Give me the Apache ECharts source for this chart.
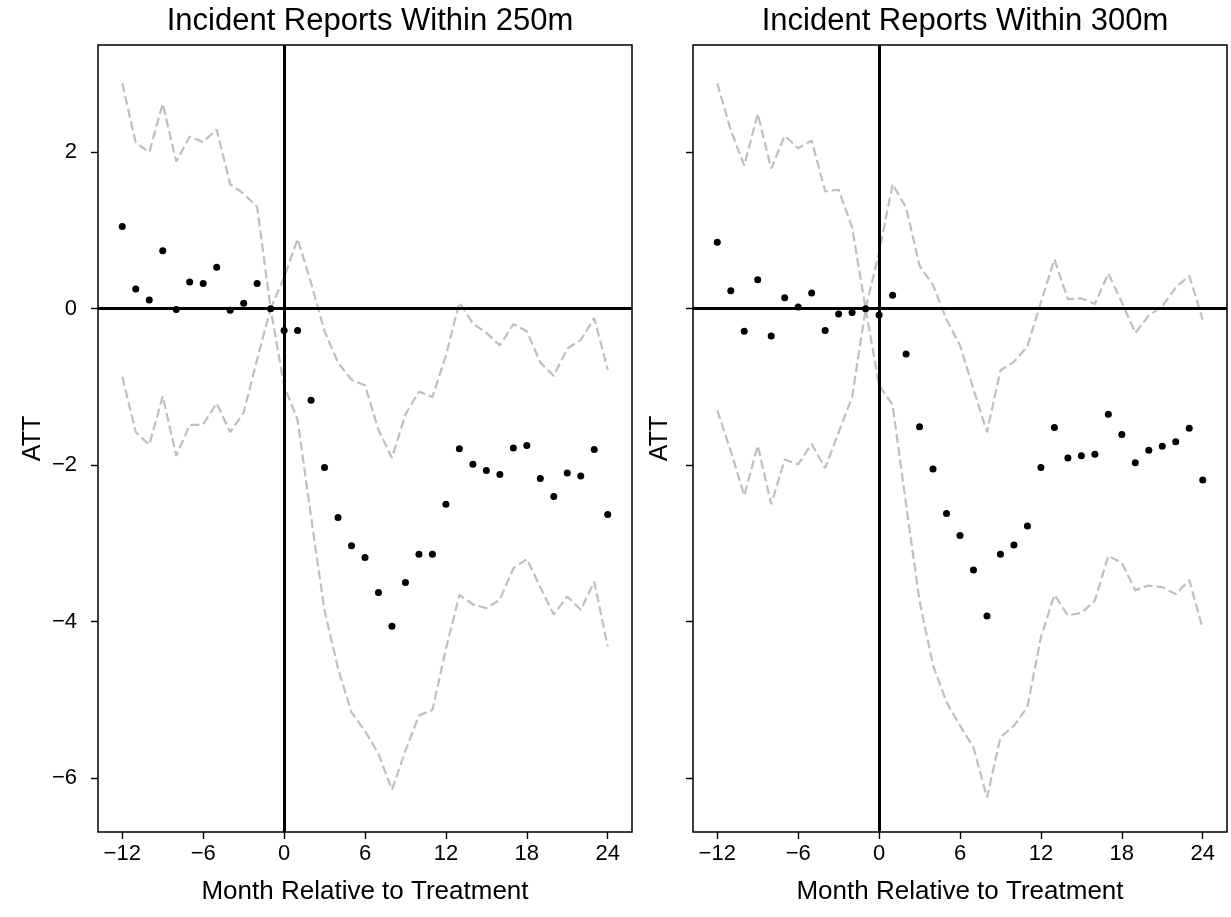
<!DOCTYPE html>
<html><head><meta charset="utf-8">
<script src="https://cdn.jsdelivr.net/npm/echarts@6/dist/echarts.min.js"></script>
<style>html,body{margin:0;padding:0;background:#fff}#c{width:1231px;height:917px}</style>
</head><body><div id="c"></div>
<script>
const months = [-12,-11,-10,-9,-8,-7,-6,-5,-4,-3,-2,-1,0,1,2,3,4,5,6,7,8,9,10,11,12,13,14,15,16,17,18,19,20,21,22,23,24];

const att250 = [1.05,0.25,0.11,0.74,-0.01,0.34,0.32,0.53,-0.02,0.07,0.32,0.00,-0.28,-0.28,-1.17,-2.03,-2.67,-3.03,-3.18,-3.63,-4.06,-3.50,-3.14,-3.14,-2.50,-1.79,-1.99,-2.07,-2.12,-1.78,-1.75,-2.17,-2.40,-2.10,-2.14,-1.80,-2.63];
const upper250 = [2.88,2.12,2.00,2.62,1.88,2.20,2.13,2.29,1.59,1.47,1.30,0.00,0.40,0.89,0.33,-0.29,-0.69,-0.91,-0.98,-1.55,-1.91,-1.35,-1.06,-1.13,-0.60,0.08,-0.19,-0.31,-0.47,-0.20,-0.29,-0.69,-0.86,-0.51,-0.40,-0.12,-0.78];
const lower250 = [-0.87,-1.58,-1.74,-1.12,-1.88,-1.49,-1.48,-1.21,-1.58,-1.33,-0.65,0.00,-0.99,-1.42,-2.66,-3.86,-4.60,-5.16,-5.40,-5.69,-6.15,-5.65,-5.20,-5.13,-4.35,-3.66,-3.78,-3.83,-3.72,-3.32,-3.20,-3.56,-3.91,-3.68,-3.85,-3.49,-4.32];

const att300 = [0.85,0.23,-0.29,0.37,-0.35,0.14,0.02,0.20,-0.28,-0.07,-0.05,0.00,-0.08,0.17,-0.58,-1.51,-2.05,-2.62,-2.90,-3.34,-3.93,-3.14,-3.02,-2.78,-2.03,-1.52,-1.91,-1.88,-1.86,-1.35,-1.61,-1.97,-1.81,-1.76,-1.70,-1.53,-2.19];
const upper300 = [2.88,2.28,1.83,2.49,1.79,2.21,2.05,2.15,1.50,1.52,1.04,0.00,0.72,1.59,1.29,0.55,0.30,-0.14,-0.47,-1.03,-1.58,-0.79,-0.68,-0.48,0.08,0.63,0.12,0.13,0.06,0.45,0.08,-0.31,-0.09,0.03,0.27,0.42,-0.14];
const lower300 = [-1.30,-1.82,-2.39,-1.75,-2.50,-1.93,-1.99,-1.73,-2.04,-1.58,-1.13,0.00,-0.98,-1.23,-2.50,-3.74,-4.56,-5.03,-5.33,-5.61,-6.25,-5.48,-5.33,-5.09,-4.20,-3.66,-3.92,-3.89,-3.73,-3.16,-3.25,-3.60,-3.54,-3.56,-3.65,-3.47,-4.09];

const titles = ['Incident Reports Within 250m', 'Incident Reports Within 300m'];
const xTicks = [-12,-6,0,6,12,18,24];
const yTicks = [-6,-4,-2,0,2];
const xLabel = 'Month Relative to Treatment';
const yLabel = 'ATT';

const FONT = '"Liberation Sans", Arial, Helvetica, sans-serif';
const pair = arr => months.map((m, i) => [m, arr[i]]);
const fmt = v => String(v).replace('-', '\u2212');

const panels = [
  {att: att250, up: upper250, lo: lower250, left: 98},
  {att: att300, up: upper300, lo: lower300, left: 693}
];

const grid = [], xAxis = [], yAxis = [], series = [], title = [];
panels.forEach((p, k) => {
  grid.push({left: p.left, top: 45, width: 534, height: 787, show: true,
    borderColor: '#000', borderWidth: 1.5, backgroundColor: 'transparent', containLabel: false});
  title.push({text: titles[k], left: p.left + 267, top: 1, textAlign: 'center',
    textStyle: {fontFamily: FONT, fontSize: 31, fontWeight: 'normal', color: '#000'}});
  xAxis.push({type: 'value', gridIndex: k, min: -13.8, max: 25.8,
    name: xLabel, nameLocation: 'middle', nameGap: 47,
    nameTextStyle: {fontFamily: FONT, fontSize: 26, color: '#000'},
    axisLine: {show: false, onZero: false}, splitLine: {show: false},
    axisTick: {show: true, length: 7, inside: false, customValues: xTicks, lineStyle: {color: '#000', width: 1.4}},
    axisLabel: {customValues: xTicks, formatter: fmt, margin: 11, fontFamily: FONT, fontSize: 22, color: '#000'}
  });
  yAxis.push({type: 'value', gridIndex: k, min: -6.69, max: 3.37,
    name: yLabel, nameLocation: 'middle', nameGap: k === 0 ? 52 : 20,
    nameTextStyle: {fontFamily: FONT, fontSize: 25, color: '#000'},
    axisLine: {show: false, onZero: false}, splitLine: {show: false},
    axisTick: {show: true, length: 7, inside: false, customValues: yTicks, lineStyle: {color: '#000', width: 1.4}},
    axisLabel: {show: k === 0, customValues: yTicks, formatter: fmt, margin: 21, fontFamily: FONT, fontSize: 22, color: '#000'}
  });
  const dashed = {color: '#bfbfbf', width: 2.2, type: [9, 4]};
  series.push({type: 'line', xAxisIndex: k, yAxisIndex: k, data: pair(p.up), showSymbol: false, symbol: 'none',
    lineStyle: dashed, silent: true, z: 2, animation: false});
  series.push({type: 'line', xAxisIndex: k, yAxisIndex: k, data: pair(p.lo), showSymbol: false, symbol: 'none',
    lineStyle: dashed, silent: true, z: 2, animation: false});
  series.push({type: 'scatter', xAxisIndex: k, yAxisIndex: k, data: pair(p.att), symbolSize: 7,
    itemStyle: {color: '#000', opacity: 1}, z: 4, animation: false,
    markLine: {silent: true, symbol: ['none', 'none'], label: {show: false}, animation: false,
      lineStyle: {color: '#000', width: 3, type: 'solid', opacity: 1},
      data: [{xAxis: 0}, {yAxis: 0}]}
  });
});

const chart = echarts.init(document.getElementById('c'), null, {renderer: 'canvas'});
chart.setOption({backgroundColor: '#fff', animation: false, title, grid, xAxis, yAxis, series});
</script>
</body></html>
